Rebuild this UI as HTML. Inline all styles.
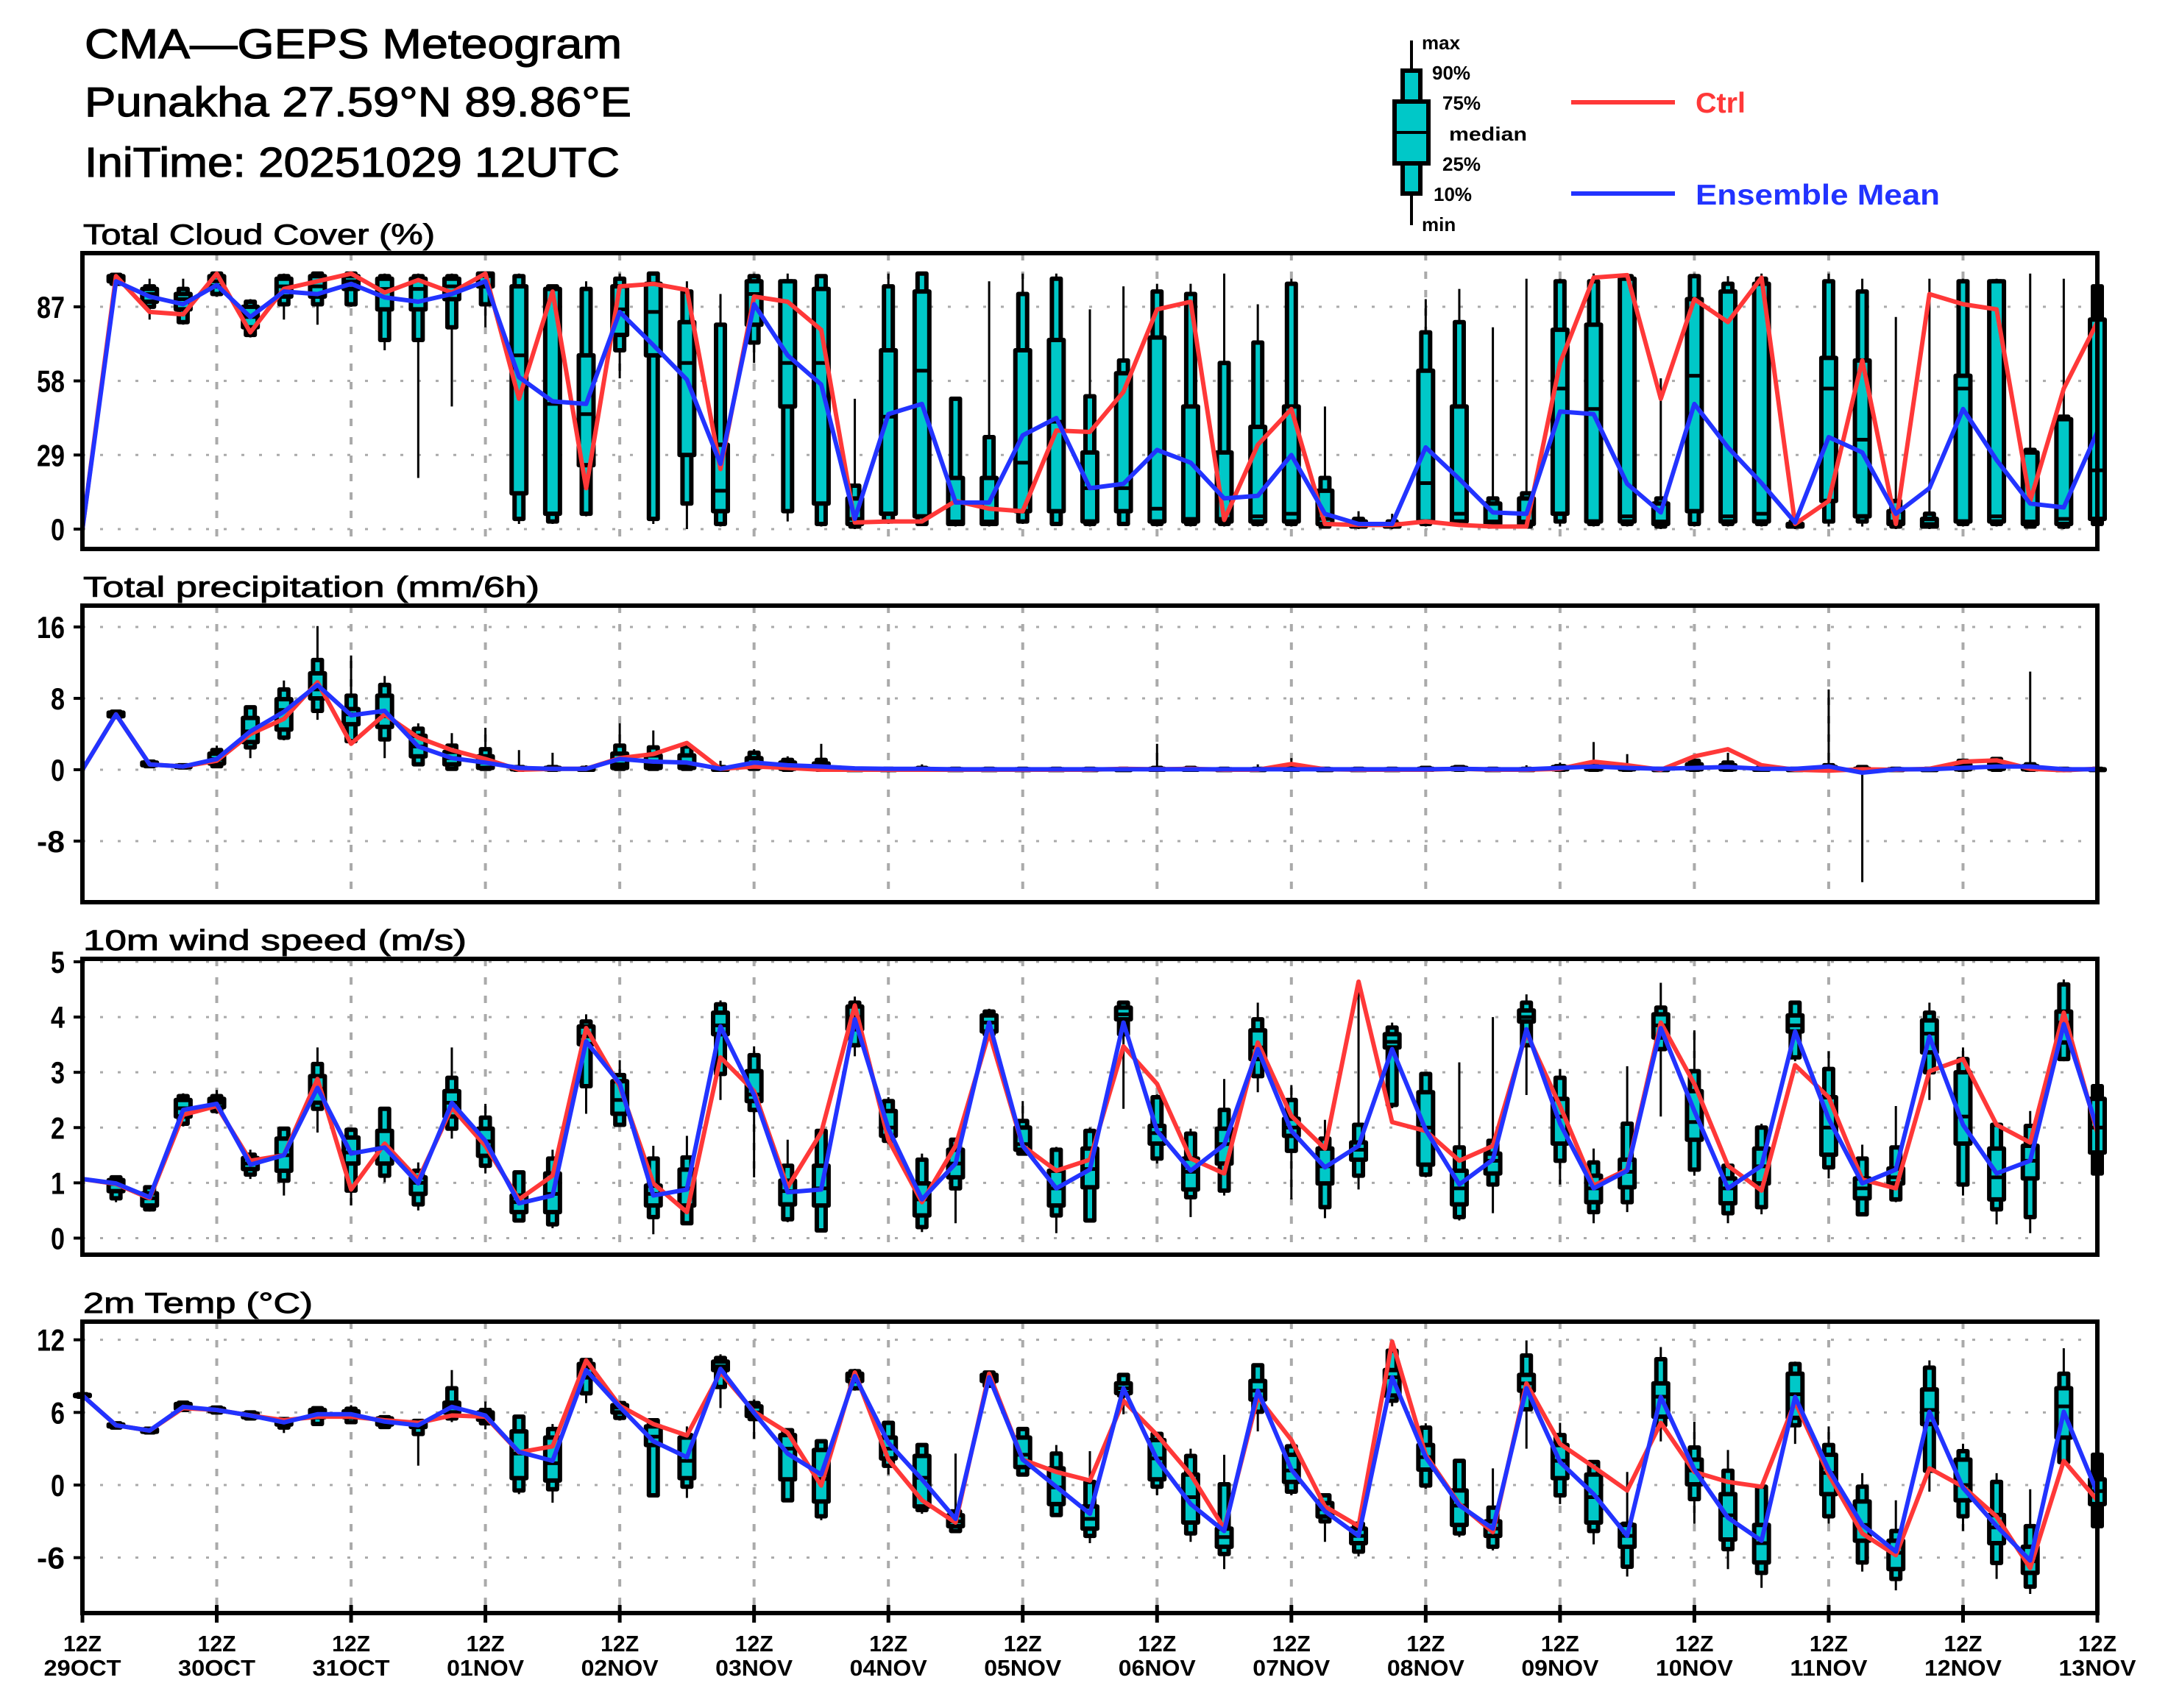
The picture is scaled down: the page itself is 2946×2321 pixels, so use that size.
<!DOCTYPE html>
<html><head><meta charset="utf-8"><title>CMA-GEPS Meteogram</title>
<style>
html,body{margin:0;padding:0;background:#fff;}
svg{display:block;}
text{font-family:"Liberation Sans",sans-serif;}
</style></head>
<body>
<svg id="chart" xmlns="http://www.w3.org/2000/svg" width="2946" height="2321" viewBox="0 0 2946 2321">
<rect x="0" y="0" width="2946" height="2321" fill="#fff"/>
<g stroke="#000" stroke-width="1.2">
<text x="115" y="79" font-size="57" textLength="730" lengthAdjust="spacingAndGlyphs">CMA—GEPS Meteogram</text>
<text x="115" y="158" font-size="57" textLength="743" lengthAdjust="spacingAndGlyphs">Punakha 27.59°N 89.86°E</text>
<text x="115" y="240" font-size="57" textLength="727" lengthAdjust="spacingAndGlyphs">IniTime: 20251029 12UTC</text>
</g>
<g>
<g>
<line x1="1918" y1="55" x2="1918" y2="306" stroke="#000" stroke-width="4"/>
<rect x="1906" y="96" width="24" height="167" fill="#00c8c8" stroke="#000" stroke-width="6"/>
<rect x="1895" y="138" width="46" height="84" fill="#00c8c8" stroke="#000" stroke-width="6"/>
<line x1="1895" y1="180" x2="1941" y2="180" stroke="#000" stroke-width="4"/>
</g>
<text x="1932" y="67" font-size="26" font-weight="bold">max</text>
<text x="1946" y="108" font-size="26" font-weight="bold">90%</text>
<text x="1960" y="149" font-size="26" font-weight="bold">75%</text>
<text x="1969" y="191" font-size="26" font-weight="bold" textLength="106" lengthAdjust="spacingAndGlyphs">median</text>
<text x="1960" y="232" font-size="26" font-weight="bold">25%</text>
<text x="1948" y="273" font-size="26" font-weight="bold">10%</text>
<text x="1932" y="314" font-size="26" font-weight="bold">min</text>
<line x1="2135" y1="139" x2="2276" y2="139" stroke="#ff3838" stroke-width="6"/>
<text x="2304" y="153" font-size="39" font-weight="bold" fill="#ff3838" textLength="68" lengthAdjust="spacingAndGlyphs">Ctrl</text>
<line x1="2135" y1="263" x2="2276" y2="263" stroke="#2233ff" stroke-width="6"/>
<text x="2304" y="278" font-size="39" font-weight="bold" fill="#2233ff" textLength="332" lengthAdjust="spacingAndGlyphs">Ensemble Mean</text>
</g>
</svg>
<script>
// ---------- Time axis data ----------
const dayLabels = ["29OCT","30OCT","31OCT","01NOV","02NOV","03NOV","04NOV","05NOV","06NOV","07NOV","08NOV","09NOV","10NOV","11NOV","12NOV","13NOV"];
const hourLabel = "12Z";

// ---------- Total cloud cover ----------
const cloudTicks = [0,29,58,87];
const cloudCtrl = [0,99,85,84,100,77,94,97,100,92.6,97.5,92.6,100,51,93,16,95,96,93.6,23.5,91,89,78,2.6,3,3,11,8,7,38.6,38,53.7,86,89,3.6,33,47,2,1.6,1.6,3,1.6,1,1,65,98.4,99.4,51,90,81,98.4,2,11,66,2,92,88,86,11,55,81];
const cloudMean = [0,97,91,88,95.5,83,93,92,96,90.7,89,92,97,59.5,50,49,85,72,58.5,25.5,88,68,56.6,4,45,49,10.4,10.4,36.7,43.5,16,17.7,31,26,12,13,29,6,2,2,32,19.6,6.5,6,46,45,17.7,6.5,49,32,18,2.6,36,30,6,16,47,27,10,8.5,38];
const cloudMax = [null,100,98,98,100,90,100,100,100,100,100,100,100,100,95,97,100,100,97,92,100,100,99,51,100,100,51,97,100,100,86,95,96,96,100,88,98,48,7,6,90,94,79,98,98,100,100,59,100,99,100,4,100,98,83,98,98,98,100,98,95];
const cloudP90 = [null,99.5,95,94,100,89,99,100,100,99,99,99,100,99,95,94,98,100,93,80,99,97,99,17,95,100,51,36,92,98,52,66,93,92,65,73,96,20,4,3,77,81,12,14,97,97,99,12,99,96,98,3,97,93,11,6,97,97,31,44,95];
const cloudP75 = [null,99,94,92,99,87,98,99,99,98,98,98,100,95,94,68,95,96,81,33,97,97,94,12,70,93,20,20,70,74,30,61,75,48,30,40,48,15,3,2,62,48,10,12,78,80,98,10,90,93,96,2,67,66,7,4,60,97,30,43,82];
const cloudMed = [null,98,92,90,97,83,95,95,97,94,94,95,99,68,49,45,86,85,65,15,92,65,65,4,44,62,3,3,26,42,16,16,8,4,4,5,6,4,2,2,18,6,3,3,55,47,5,3,60,5,6,1,55,35,3,2,55,5,3,4,23];
const cloudP25 = [null,97,89,86,95,79,91,91,94,86,86,90,95,14,6,25,76,68,29,7,80,48,10,2,6,5,2,2,7,7,3,7,3,3,3,3,3,2,1,1,3,3,2,2,6,3,3,2,7,3,3,1,11,5,2,1,3,3,2,2,4];
const cloudP10 = [null,96,87,81,92,76,88,88,88,74,74,79,88,4,3,6,70,4,10,2,73,7,2,1,3,2,2,2,3,2,2,2,2,2,2,2,2,1,1,1,2,2,1,1,3,2,2,1,2,2,2,1,3,3,1,1,2,2,1,1,2];
const cloudMin = [null,95,82,80,91,75,82,80,87,70,20,48,79,2,2,5,59,2,0,1,65,3,1,0,2,2,1,1,2,2,1,2,1,1,1,1,1,1,0,0,1,1,1,1,1,1,1,0,1,1,1,0,1,1,0,0,1,1,1,0,1];

// ---------- Total precipitation ----------
const precipTicks = [-8,0,8,16];
const precipCtrl = [0,6.2,0.6,0.36,1.0,4.0,5.7,9.8,2.9,6.2,3.6,2.2,1.2,0,0.1,0.1,1.3,1.75,3.0,0.1,0.36,0.2,0,0,0,0,0,0,0,0,0,0.1,0.05,0.1,0,0,0.64,0.05,0,0,0,0.1,0,0,0.1,0.9,0.5,0,1.5,2.3,0.5,0,-0.1,0.05,0,0.1,0.9,1.05,0.1,-0.05,0.1];
const precipMean = [0,6.2,0.6,0.36,1.2,4.3,6.5,9.5,6.1,6.6,2.6,1.3,0.8,0.2,0.1,0.1,1.2,0.9,0.8,0.1,0.8,0.5,0.36,0.15,0.1,0.1,0.05,0.05,0.05,0.05,0.05,0.05,0.05,0.05,0.05,0.05,0.05,0.05,0.05,0.05,0.05,0.1,0.05,0.05,0.2,0.36,0.2,0.1,0.2,0.3,0.1,0.1,0.36,-0.33,0.05,0.05,0.2,0.36,0.36,0.05,0.05];
const precipMax = [null,6.6,0.9,0.5,2.7,7.2,10,16.1,12.8,10.5,5.2,4.1,4.7,2.2,1.9,0.5,5.2,4.4,2.8,1.0,2.3,1.5,2.9,0.3,0.3,0.6,0.3,0.3,0.2,0.2,0.2,0.3,2.9,0.3,0.2,0.6,1.3,0.3,0.2,0.2,0.3,0.3,0.2,0.5,0.8,3.1,1.75,0.3,1.2,1.9,0.3,0.3,9.0,0.4,0.2,0.3,1.2,1.4,11.0,0.3,0.3];
const precipP90 = [null,6.5,0.9,0.5,2.2,7.0,9.0,12.3,8.3,9.5,4.6,2.7,2.3,0.3,0.3,0.2,2.7,2.5,2.6,0.3,1.9,1.1,1.1,0.1,0.1,0.2,0.1,0.1,0.1,0.1,0.1,0.1,0.2,0.2,0.1,0.1,0.2,0.1,0.1,0.1,0.2,0.3,0.1,0.1,0.4,0.4,0.3,0.1,1.0,0.8,0.2,0.1,0.5,0.3,0.1,0.1,1.0,1.2,0.6,0.1,0.1];
const precipP75 = [null,6.4,0.8,0.45,1.8,5.8,7.9,10.8,6.8,8.3,3.8,2.0,1.5,0.2,0.2,0.1,1.8,1.6,1.6,0.2,1.3,0.8,0.7,0.05,0.05,0.1,0.05,0.05,0.05,0.05,0.05,0.05,0.1,0.1,0.05,0.05,0.1,0.05,0.05,0.05,0.1,0.2,0.05,0.05,0.3,0.3,0.2,0.05,0.6,0.5,0.1,0.05,0.3,0.1,0.05,0.05,0.6,0.8,0.4,0.05,0.05];
const precipMed = [null,6.2,0.6,0.36,1.2,4.3,6.7,9.0,6.2,6.0,2.6,1.3,0.8,0.1,0.1,0.05,0.6,0.5,0.5,0.05,0.6,0.3,0.2,0,0,0.05,0,0,0,0,0,0,0.05,0.05,0,0,0.05,0,0,0,0.05,0.1,0,0,0.1,0.1,0.1,0,0.2,0.2,0.05,0,0.1,0,0,0,0.2,0.3,0.2,0,0];
const precipP25 = [null,6.0,0.5,0.3,0.7,3.1,4.5,8.0,5.1,4.8,1.5,0.6,0.2,0.05,0.05,0,0.2,0.2,0.2,0,0.3,0.1,0.05,0,0,0,0,0,0,0,0,0,0,0,0,0,0,0,0,0,0,0.05,0,0,0.05,0.05,0.05,0,0.05,0.05,0,0,0.05,-0.05,0,0,0.05,0.1,0.05,0,0];
const precipP10 = [null,5.9,0.4,0.25,0.4,2.5,3.6,6.6,3.2,3.4,0.6,0.1,0.1,0,0,0,0.1,0.1,0.1,0,0.1,0,0,0,0,0,0,0,0,0,0,0,0,0,0,0,0,0,0,0,0,0,0,0,0,0,0,0,0,0,0,0,0,-0.2,0,0,0,0,0,0,0];
const precipMin = [null,5.8,0.3,0.2,0.2,1.3,3.3,5.6,3.2,1.3,0.5,0.1,0,0,0,0,0,0,0,0,0,0,0,0,0,0,0,0,0,0,0,0,0,0,0,0,0,0,0,0,0,0,0,0,0,0,0,0,0,0,0,0,0,-12.6,0,0,0,0,0,0,0];

// ---------- 10m wind speed ----------
const windTicks = [0,1,2,3,4,5];
const windCtrl = [1.07,0.98,0.72,2.23,2.39,1.4,1.5,2.88,0.88,1.71,1.06,2.36,1.67,0.70,1.13,3.8,2.75,0.99,0.47,3.27,2.66,0.92,1.91,4.21,1.78,0.65,1.67,3.72,1.67,1.22,1.42,3.47,2.79,1.44,1.17,3.54,2.21,1.62,4.64,2.1,1.94,1.4,1.67,3.72,2.39,0.95,1.24,3.9,2.79,1.31,0.86,3.13,2.55,1.06,0.9,3.02,3.24,2.05,1.73,4.08,1.91];
const windMean = [1.07,0.99,0.74,2.32,2.43,1.33,1.5,2.72,1.53,1.64,0.99,2.45,1.76,0.63,0.77,3.56,2.8,0.77,0.88,3.83,2.59,0.83,0.88,3.96,1.98,0.70,1.35,3.9,1.67,0.9,1.24,3.9,1.94,1.22,1.69,3.42,1.94,1.28,1.67,3.42,1.96,0.97,1.42,3.78,2.07,0.9,1.22,3.8,2.3,0.9,1.31,3.74,2.16,0.99,1.24,3.65,2.05,1.17,1.4,3.87,1.98];
const windMax = [null,1.12,0.95,2.62,2.68,1.6,2.0,3.45,1.96,2.36,1.37,3.45,2.43,1.22,1.6,4.05,3.22,1.67,1.85,4.3,3.47,1.78,1.96,4.37,2.55,1.53,1.8,4.15,2.48,1.65,2.0,4.3,2.6,1.98,2.88,4.26,2.77,2.14,4.64,3.9,3.0,3.18,4.0,4.41,3.06,1.62,3.11,4.62,3.76,1.35,2.07,4.3,3.38,1.69,2.39,4.26,3.45,2.1,2.3,4.68,2.8];
const windP90 = [null,1.10,0.92,2.57,2.57,1.51,1.98,3.15,1.96,2.34,1.22,2.9,2.18,1.19,1.44,3.92,2.95,1.44,1.46,4.23,3.31,1.31,1.94,4.26,2.48,1.42,1.78,4.1,2.12,1.6,1.94,4.26,2.55,1.89,2.32,3.96,2.5,1.8,2.05,3.81,2.97,1.64,1.76,4.26,2.9,1.37,2.07,4.17,3.02,1.31,2.0,4.26,3.06,1.44,1.64,4.08,3.24,2.05,2.03,4.59,2.75];
const windP75 = [null,1.05,0.81,2.5,2.52,1.45,1.8,2.93,1.82,1.94,1.1,2.66,1.98,0.77,1.17,3.83,2.84,0.95,1.24,4.08,3.02,1.04,1.31,4.19,2.3,0.99,1.6,4.03,2.0,1.22,1.62,4.17,2.03,1.44,1.98,3.76,2.16,1.62,1.73,3.69,2.64,1.22,1.53,4.12,2.52,1.13,1.42,4.05,2.66,1.08,1.62,4.03,2.55,1.08,1.26,3.94,3.0,1.62,1.67,4.1,2.52];
const windMed = [null,0.98,0.72,2.35,2.45,1.35,1.5,2.7,1.55,1.64,1.0,2.45,1.75,0.65,0.8,3.65,2.5,0.8,0.9,3.85,2.6,0.85,0.9,4.0,2.0,0.7,1.35,3.9,1.7,0.9,1.25,4.05,1.9,1.2,1.7,3.45,2.0,1.3,1.6,3.55,2.0,0.9,1.4,4.0,2.2,0.9,1.2,3.85,2.1,0.9,1.3,3.85,2.0,0.9,1.1,3.7,2.2,1.1,1.4,3.9,2.0];
const windP25 = [null,0.85,0.59,2.2,2.37,1.25,1.22,2.45,1.35,1.35,0.8,2.2,1.49,0.47,0.47,3.51,2.25,0.59,0.59,3.69,2.48,0.61,0.59,3.78,1.85,0.41,1.1,3.74,1.6,0.59,0.92,3.96,1.71,0.88,1.35,3.24,1.85,0.99,1.42,3.45,1.33,0.61,1.17,3.92,1.71,0.65,0.92,3.63,1.78,0.63,0.99,3.74,1.51,0.72,0.99,3.36,1.71,0.7,1.08,3.54,1.55];
const windP10 = [null,0.72,0.52,2.07,2.30,1.15,1.04,2.34,0.86,1.13,0.61,1.98,1.31,0.32,0.25,2.75,2.05,0.38,0.27,2.97,2.32,0.34,0.14,3.49,1.76,0.2,0.9,3.69,1.53,0.41,0.32,3.69,1.44,0.74,0.86,2.93,1.58,0.56,1.13,2.41,1.15,0.38,0.97,3.49,1.4,0.47,0.65,3.42,1.24,0.45,0.56,3.27,1.28,0.43,0.7,3.0,0.97,0.52,0.38,3.24,1.17];
const windMin = [null,0.65,0.48,2.02,2.25,1.07,0.77,1.91,0.59,1.01,0.5,1.8,1.17,0.30,0.18,2.25,2.03,0.07,0.25,2.5,1.1,0.29,0.1,3.29,1.7,0.11,0.27,3.65,1.5,0.09,0.3,2.34,1.35,0.38,0.77,2.64,0.7,0.36,0.88,2.35,1.1,0.32,0.45,2.59,0.97,0.27,0.47,2.2,1.13,0.27,0.43,3.2,1.08,0.4,0.65,2.5,0.77,0.25,0.09,3.2,1.1];

// ---------- 2m temperature ----------
const tempTicks = [-6,0,6,12];
const tempCtrl = [7.4,4.94,4.5,6.36,6.2,5.75,5.35,5.65,5.65,5.35,5.14,5.75,5.65,2.7,3.2,10.3,6.56,5.04,4.1,9.3,6.06,4.33,-0.04,9.3,2.1,-1.26,-3.1,9.2,2.1,1.08,0.37,6.97,4.13,0.87,-3.6,7.28,3.72,-1.77,-3.4,11.85,2.5,-1.57,-3.9,8.4,3.4,1.5,-0.45,5.14,1.08,0.26,-0.14,6.87,0.87,-4.0,-5.8,1.38,-0.14,-2.6,-6.85,2.0,-1.26];
const tempMean = [7.4,4.94,4.5,6.46,6.2,5.75,5.18,5.85,5.85,5.24,4.94,6.46,5.75,2.74,2.0,9.5,6.46,3.62,2.3,9.6,5.96,2.6,0.87,9.0,3.5,0.47,-2.8,8.9,2.1,-0.14,-2.38,8.0,2.1,-1.57,-3.8,7.8,1.28,-2.17,-4.2,8.9,2.3,-1.67,-3.6,8.0,1.9,-0.75,-4.2,7.28,1.28,-2.7,-4.6,7.28,1.28,-3.3,-5.5,6.06,-0.24,-3.4,-6.24,6.06,-0.65];
const tempMax = [7.6,5.2,4.75,6.9,6.5,6.1,5.6,6.4,6.6,5.7,5.4,9.5,6.9,5.7,5.04,10.5,6.9,5.5,4.84,10.8,7.07,4.6,3.8,9.6,5.3,3.4,2.6,9.4,4.8,3.31,2.8,9.2,4.4,3.0,2.5,10.0,3.92,-0.7,-3.1,11.85,5.1,2.1,1.38,11.95,5.14,2.0,1.08,11.4,5.24,2.9,-0.1,10.2,4.84,0.98,-1.26,10.3,3.41,0.98,-0.35,11.3,2.6];
const tempP90 = [7.5,5.1,4.65,6.8,6.4,6.0,5.45,6.35,6.3,5.6,5.3,8.0,6.2,5.65,4.63,10.33,6.77,5.35,4.13,10.5,6.77,4.53,3.62,9.4,5.14,3.31,-2.17,9.3,4.63,2.6,0.26,9.1,4.23,2.4,0.06,9.9,3.2,-0.85,-3.2,11.1,4.74,2.0,-1.87,10.7,4.13,1.9,-3.2,10.4,3.1,1.18,-0.14,10.0,3.31,-0.14,-3.8,9.7,2.8,0.26,-3.4,9.2,2.5];
const tempP75 = [7.45,5.0,4.6,6.7,6.3,5.9,5.4,6.2,6.1,5.5,5.2,6.8,6.0,4.43,3.92,10.0,6.6,4.84,3.92,10.2,6.5,4.13,2.9,9.2,3.92,2.4,-2.5,9.1,3.92,1.38,-1.77,8.4,3.72,0.87,-3.6,8.6,2.5,-1.5,-3.6,9.5,3.31,-0.45,-3.0,9.1,3.31,0.87,-3.3,8.4,2.1,-0.75,-3.3,9.2,2.5,-1.36,-4.6,7.9,2.1,-2.48,-5.1,8.0,0.47];
const tempMed = [7.4,4.95,4.5,6.5,6.2,5.8,5.2,5.9,5.9,5.2,5.0,6.5,5.7,2.6,1.8,9.7,6.4,4.0,2.0,9.8,6.0,3.0,0.5,9.0,3.0,0.6,-3.0,8.9,2.5,-0.2,-2.8,8.0,2.2,-1.0,-4.3,7.8,1.2,-2.0,-4.2,8.9,2.3,-1.7,-3.6,8.4,2.0,-1.0,-4.2,7.3,1.2,-2.5,-4.8,7.5,1.0,-3.3,-5.6,6.2,0,-3.5,-6.3,6.5,-0.5];
const tempP25 = [7.35,4.85,4.4,6.3,6.1,5.6,5.0,5.6,5.6,5.0,4.8,6.0,5.4,0.57,0.37,8.9,6.0,3.31,0.57,9.5,5.7,0.47,-1.36,8.6,2.2,-1.77,-3.4,8.6,1.48,-1.57,-3.6,7.6,0.47,-3.1,-5.1,7.07,0.26,-2.6,-4.8,7.4,1.28,-3.3,-4.2,7.8,0.57,-3.1,-5.1,5.65,0.06,-4.5,-6.4,5.55,-0.75,-4.6,-6.95,5.04,-1.26,-4.8,-7.26,3.92,-1.57];
const tempP10 = [7.3,4.75,4.35,6.2,6.0,5.5,4.75,5.05,5.2,4.8,4.22,5.5,5.1,-0.45,-0.35,7.58,5.55,-0.85,-0.14,8.1,5.45,-1.26,-2.58,8.0,1.59,-2.07,-3.8,8.2,0.87,-2.48,-4.2,7.4,-0.14,-4.0,-5.7,6.06,-0.55,-3.0,-5.5,6.97,-0.04,-4.0,-5.1,6.26,-0.85,-3.8,-6.75,4.94,-1.16,-5.3,-7.26,4.94,-2.58,-6.4,-7.76,1.18,-2.58,-6.44,-8.4,1.9,-3.4];
const tempMin = [7.2,4.7,4.3,6.1,5.9,5.4,4.3,4.95,5.1,4.7,1.6,5.2,4.6,-0.75,-1.46,6.77,5.35,-1.0,-1.06,6.36,3.82,-1.4,-2.9,7.8,0.87,-2.38,-3.9,8.1,0.7,-2.6,-4.8,5.85,-0.85,-4.7,-6.95,4.43,-0.85,-4.7,-5.9,6.5,-0.3,-4.3,-5.4,3.0,-1.57,-4.9,-7.56,3.6,-3.2,-6.95,-8.5,3.4,-3.2,-7.15,-8.7,-0.55,-3.8,-7.76,-9.0,1.7,-3.5];

// ---------- Rendering ----------
const NS = "http://www.w3.org/2000/svg";
const svg = document.getElementById("chart");
const X0 = 112, X1 = 2850, NSTEP = 60;
function xAt(i){ return X0 + i*(X1-X0)/NSTEP; }
function mk(tag, attrs, parent){
  const e = document.createElementNS(NS, tag);
  for (const k in attrs) e.setAttribute(k, attrs[k]);
  (parent||svg).appendChild(e);
  return e;
}

const panels = [
  {key:"cloud", title:"Total Cloud Cover (%)", tw:478, top:344, bottom:746, ymin:-7.78, ymax:108.0, ticks:cloudTicks,
   ctrl:cloudCtrl, mean:cloudMean, mx:cloudMax, p90:cloudP90, p75:cloudP75, med:cloudMed, p25:cloudP25, p10:cloudP10, mn:cloudMin},
  {key:"precip", title:"Total precipitation (mm/6h)", tw:620, top:823, bottom:1226, ymin:-14.85, ymax:18.39, ticks:precipTicks,
   ctrl:precipCtrl, mean:precipMean, mx:precipMax, p90:precipP90, p75:precipP75, med:precipMed, p25:precipP25, p10:precipP10, mn:precipMin},
  {key:"wind", title:"10m wind speed (m/s)", tw:521, top:1303, bottom:1705, ymin:-0.30, ymax:5.053, ticks:windTicks,
   ctrl:windCtrl, mean:windMean, mx:windMax, p90:windP90, p75:windP75, med:windMed, p25:windP25, p10:windP10, mn:windMin},
  {key:"temp", title:"2m Temp (°C)", tw:312, top:1796, bottom:2192, ymin:-10.58, ymax:13.5, ticks:tempTicks,
   ctrl:tempCtrl, mean:tempMean, mx:tempMax, p90:tempP90, p75:tempP75, med:tempMed, p25:tempP25, p10:tempP10, mn:tempMin}
];

panels.forEach((p, pi) => {
  const yAt = v => p.bottom - (v - p.ymin)/(p.ymax - p.ymin)*(p.bottom - p.top);
  const g = mk("g", {});
  
  

  const title = mk("text", {x:113, y:p.top-12, "font-size":39, stroke:"#000", "stroke-width":0.9, textLength:p.tw, lengthAdjust:"spacingAndGlyphs"}, g);
  title.textContent = p.title;
  
  

  p.ticks.forEach(t => {
    const y = yAt(t);
    const gl = mk("line", {x1:X0, y1:y, x2:X1, y2:y, stroke:"#aaaaaa", "stroke-width":3, "stroke-dasharray":"4 20"}, g);
    
    
    const tk = mk("line", {x1:X0-12, y1:y, x2:X0, y2:y, stroke:"#000", "stroke-width":4}, g);
    
    
    const s = String(t);
    const lb = mk("text", {x:88, y:y+15, "font-size":42, "font-weight":"bold", "text-anchor":"end", textLength:19*s.length, lengthAdjust:"spacingAndGlyphs"}, g);
    lb.textContent = s;
    
    
  });

  for (let d = 1; d < dayLabels.length - 1; d++) {
    const x = xAt(d*4);
    const vl = mk("line", {x1:x, y1:p.top, x2:x, y2:p.bottom, stroke:"#aaaaaa", "stroke-width":4, "stroke-dasharray":"10 15"}, g);
    
    
  }

  for (let i = 0; i < p.mx.length; i++) {
    if (p.mx[i] === null) continue;
    const x = xAt(i);
    const bg = mk("g", {}, g);
    
    
    mk("line", {x1:x, y1:yAt(p.mx[i]), x2:x, y2:yAt(p.mn[i]), stroke:"#000", "stroke-width":3}, bg);
    const y90 = yAt(p.p90[i]), y10 = yAt(p.p10[i]);
    mk("rect", {x:x-6, y:y90, width:12, height:Math.max(1, y10-y90), fill:"#00c8c8", stroke:"#000", "stroke-width":6, "stroke-linejoin":"round"}, bg);
    const y75 = yAt(p.p75[i]), y25 = yAt(p.p25[i]);
    mk("rect", {x:x-10, y:y75, width:20, height:Math.max(1, y25-y75), fill:"#00c8c8", stroke:"#000", "stroke-width":6, "stroke-linejoin":"round"}, bg);
    const ym = yAt(p.med[i]);
    mk("line", {x1:x-10, y1:ym, x2:x+10, y2:ym, stroke:"#000", "stroke-width":5}, bg);
  }

  const ptsC = p.ctrl.map((v,i) => xAt(i).toFixed(1) + "," + yAt(v).toFixed(1)).join(" ");
  const lc = mk("polyline", {points:ptsC, fill:"none", stroke:"#ff3838", "stroke-width":6, "stroke-linejoin":"round"}, g);
  
  
  const ptsM = p.mean.map((v,i) => xAt(i).toFixed(1) + "," + yAt(v).toFixed(1)).join(" ");
  const lm = mk("polyline", {points:ptsM, fill:"none", stroke:"#2233ff", "stroke-width":6, "stroke-linejoin":"round"}, g);
  
  

  const br = mk("rect", {x:X0, y:p.top, width:X1-X0, height:p.bottom-p.top, fill:"none", stroke:"#000", "stroke-width":6}, g);
  
  

  if (pi === panels.length - 1) {
    dayLabels.forEach((lab, d) => {
      const x = xAt(d*4);
      const t = mk("line", {x1:x, y1:p.bottom-11, x2:x, y2:p.bottom+13, stroke:"#000", "stroke-width":5}, g);
      
      
      const h = mk("text", {x:x, y:2244, "font-size":31, "font-weight":"bold", "text-anchor":"middle", textLength:52, lengthAdjust:"spacingAndGlyphs"}, g);
      h.textContent = hourLabel;
      
      
      const dl = mk("text", {x:x, y:2277, "font-size":31, "font-weight":"bold", "text-anchor":"middle", textLength:105, lengthAdjust:"spacingAndGlyphs"}, g);
      dl.textContent = lab;
      
      
    });
  }
});
</script>
</body></html>
